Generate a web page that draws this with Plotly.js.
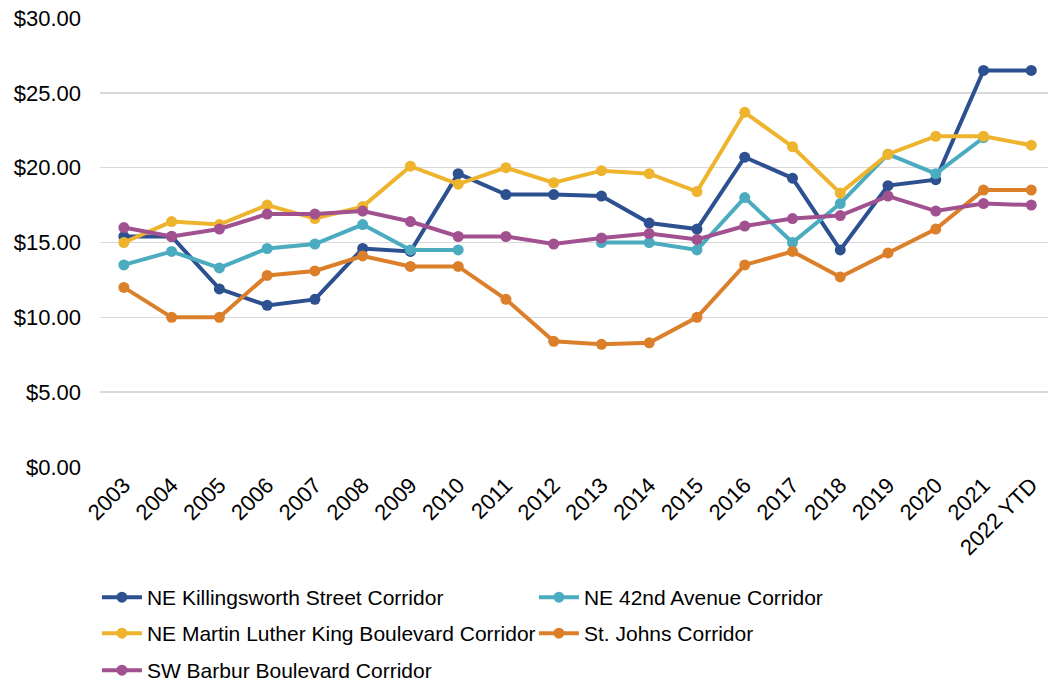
<!DOCTYPE html>
<html>
<head>
<meta charset="utf-8">
<script src="https://cdn.plot.ly/plotly-3.0.1.min.js"></script>
<style>html,body{margin:0;padding:0;background:#fff;}#chart{width:1048px;height:685px;}</style>
</head>
<body>
<div id="chart"></div>
<script>
const years = ["2003","2004","2005","2006","2007","2008","2009","2010","2011","2012","2013","2014","2015","2016","2017","2018","2019","2020","2021","2022 YTD"];

const killingsworth = [15.4,15.4,11.9,10.8,11.2,14.6,14.4,19.6,18.2,18.2,18.1,16.3,15.9,20.7,19.3,14.5,18.8,19.2,26.5,26.5];
const ne42nd = [13.5,14.4,13.3,14.6,14.9,16.2,14.5,14.5,null,null,15.0,15.0,14.5,18.0,15.0,17.6,20.9,19.6,22.0,null];
const mlk = [15.0,16.4,16.2,17.5,16.6,17.4,20.1,18.9,20.0,19.0,19.8,19.6,18.4,23.7,21.4,18.3,20.9,22.1,22.1,21.5];
const stJohns = [12.0,10.0,10.0,12.8,13.1,14.1,13.4,13.4,11.2,8.4,8.2,8.3,10.0,13.5,14.4,12.7,14.3,15.9,18.5,18.5];
const barbur = [16.0,15.4,15.9,16.9,16.9,17.1,16.4,15.4,15.4,14.9,15.3,15.6,15.2,16.1,16.6,16.8,18.1,17.1,17.6,17.5];

const seriesNames = ["NE Killingsworth Street Corridor","NE 42nd Avenue Corridor","NE Martin Luther King Boulevard Corridor","St. Johns Corridor","SW Barbur Boulevard Corridor"];
const seriesValues = [killingsworth, ne42nd, mlk, stJohns, barbur];
const seriesColors = ["#2C5090","#4BACC0","#EEB42E","#DC7F2A","#A25190"];
const legendRows = ["legend","legend","legend2","legend2","legend3"];

const yTickVals = [0,5,10,15,20,25,30];
const yTickText = ["$0.00","$5.00","$10.00","$15.00","$20.00","$25.00","$30.00"];

const FONT = "'Liberation Sans', Arial, sans-serif";

const traces = seriesValues.map((vals, i) => ({
  type: "scatter",
  mode: "lines+markers",
  x: years,
  y: vals,
  name: seriesNames[i],
  legend: legendRows[i],
  connectgaps: false,
  line: {color: seriesColors[i], width: 4},
  marker: {color: seriesColors[i], size: 11},
  hoverinfo: "x+y+name"
}));

function legendAt(y) {
  return {
    orientation: "h",
    xref: "container",
    yref: "container",
    x: 0.0925,
    xanchor: "left",
    y: y,
    yanchor: "top",
    entrywidth: 382,
    entrywidthmode: "pixels",
    font: {family: FONT, size: 21, color: "#000"},
    itemwidth: 40,
    bgcolor: "rgba(0,0,0,0)"
  };
}

const layout = {
  width: 1048,
  height: 685,
  margin: {l: 100, r: 0, t: 18, b: 218},
  paper_bgcolor: "#fff",
  plot_bgcolor: "#fff",
  font: {family: FONT, size: 21, color: "#000"},
  showlegend: true,
  xaxis: {
    type: "category",
    range: [-0.5, 19.35],
    tickangle: -45,
    showgrid: false,
    zeroline: false,
    showline: false,
    ticks: "",
    tickfont: {family: FONT, size: 22, color: "#000"},
    automargin: false
  },
  yaxis: {
    range: [0, 30],
    tickvals: yTickVals,
    ticktext: yTickText,
    showgrid: true,
    gridcolor: "#D9D9D9",
    gridwidth: 1.5,
    zeroline: false,
    showline: false,
    ticks: "",
    ticklabelstandoff: 18,
    tickfont: {family: FONT, size: 22, color: "#000"},
    automargin: false
  },
  legend: legendAt(0.1577),
  legend2: legendAt(0.1051),
  legend3: legendAt(0.0511)
};

Plotly.newPlot("chart", traces, layout, {displayModeBar: false, staticPlot: true});
</script>
</body>
</html>
